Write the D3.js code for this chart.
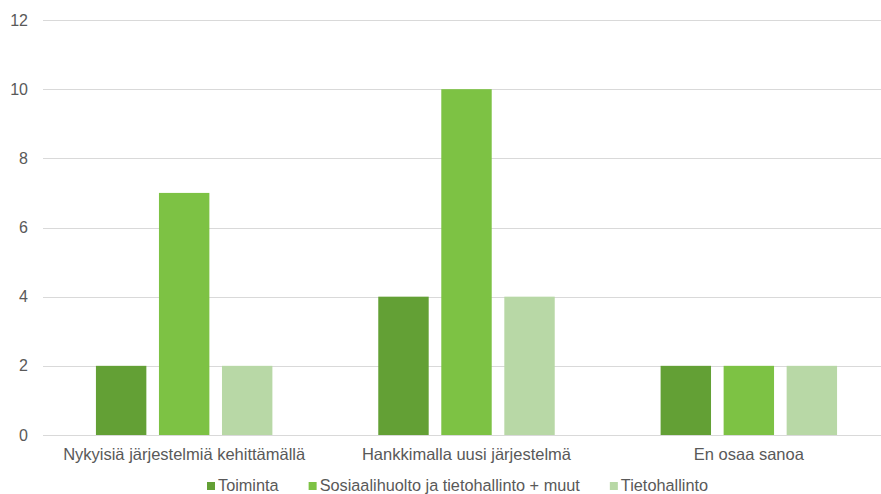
<!DOCTYPE html>
<html>
<head>
<meta charset="utf-8">
<script src="https://cdn.jsdelivr.net/npm/d3@7"></script>
<style>
  body { margin: 0; background: #fff; }
  text { font-family: "Liberation Sans", Arial, sans-serif; fill: #595959; }
</style>
</head>
<body>
<div id="vis"></div>
<script>
const categories = ["Nykyisiä järjestelmiä kehittämällä", "Hankkimalla uusi järjestelmä", "En osaa sanoa"];
const seriesNames = ["Toiminta", "Sosiaalihuolto ja tietohallinto + muut", "Tietohallinto"];
const toiminta = [2, 4, 2];
const sosiaalihuolto = [7, 10, 2];
const tietohallinto = [2, 4, 2];
const yTicks = [0, 2, 4, 6, 8, 10, 12];
const colors = ["#63a035", "#7dc244", "#b8d8a6"];

const seriesValues = [toiminta, sosiaalihuolto, tietohallinto];

const W = 881, H = 494;
const margin = { top: 20, right: -9, bottom: 59, left: 43 };
const width = W - margin.left - margin.right;
const height = H - margin.top - margin.bottom;

const svg = d3.select("#vis")
  .append("svg")
  .attr("width", W)
  .attr("height", H)
  .append("g")
  .attr("transform", `translate(${margin.left}, ${margin.top})`);

const x0 = d3.scaleBand()
  .domain(categories)
  .range([0, width]);

const x1 = d3.scaleBand()
  .domain(seriesNames)
  .range([x0.bandwidth() * 0.1875, x0.bandwidth() * 0.8125])
  .paddingInner(0.2);

const y = d3.scaleLinear()
  .domain([0, 12])
  .range([height, 0]);

// gridlines
svg.selectAll("line.grid")
  .data(yTicks)
  .join("line")
  .attr("class", "grid")
  .attr("x1", 0)
  .attr("x2", width)
  .attr("y1", d => Math.round(y(d)) + 0.5)
  .attr("y2", d => Math.round(y(d)) + 0.5)
  .attr("stroke", "#d9d9d9")
  .attr("stroke-width", 1);

// y labels
svg.selectAll("text.ylab")
  .data(yTicks)
  .join("text")
  .attr("class", "ylab")
  .attr("x", -15)
  .attr("y", d => y(d))
  .attr("dy", "0.35em")
  .attr("text-anchor", "end")
  .attr("font-size", "16px")
  .text(d => d);

// bars
const groups = svg.selectAll("g.cat")
  .data(categories)
  .join("g")
  .attr("class", "cat")
  .attr("transform", d => `translate(${x0(d)}, 0)`);

groups.selectAll("rect")
  .data((c, i) => seriesNames.map((s, j) => ({ s, v: seriesValues[j][i], j })))
  .join("rect")
  .attr("x", d => x1(d.s))
  .attr("width", x1.bandwidth())
  .attr("y", d => y(d.v))
  .attr("height", d => y(0) - y(d.v))
  .attr("fill", d => colors[d.j]);

// category labels
svg.selectAll("text.xlab")
  .data(categories)
  .join("text")
  .attr("class", "xlab")
  .attr("x", d => x0(d) + x0.bandwidth() / 2)
  .attr("y", height + 25)
  .attr("text-anchor", "middle")
  .attr("font-size", "16.5px")
  .text(d => d);

// legend
const legend = svg.append("g")
  .attr("transform", `translate(${207 - margin.left}, ${height + 56})`);
let lx = 0;
seriesNames.forEach((s, i) => {
  const item = legend.append("g").attr("transform", `translate(${lx}, 0)`);
  item.append("rect")
    .attr("x", 0)
    .attr("y", -9)
    .attr("width", 8)
    .attr("height", 8)
    .attr("fill", colors[i]);
  const t = item.append("text")
    .attr("x", 11)
    .attr("y", 0)
    .attr("font-size", "16.3px")
    .text(s);
  lx += 11 + t.node().getComputedTextLength() + 30;
});
</script>
</body>
</html>
